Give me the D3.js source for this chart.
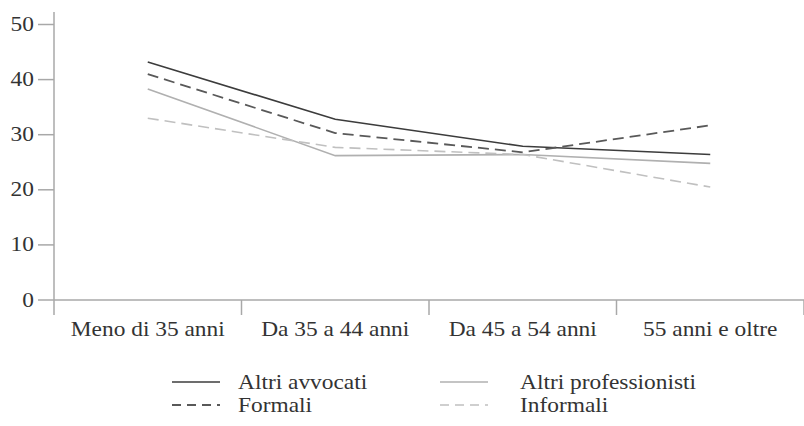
<!DOCTYPE html>
<html><head><meta charset="utf-8">
<script src="https://cdn.jsdelivr.net/npm/d3@7"></script>
</head><body style="margin:0">
<svg id="c" width="804" height="426"></svg>
<script>
const categories = ["Meno di 35 anni","Da 35 a 44 anni","Da 45 a 54 anni","55 anni e oltre"];
const altriAvvocati = [43.2, 32.8, 27.9, 26.4];
const formali = [41.0, 30.3, 26.8, 31.7];
const altriProfessionisti = [38.3, 26.2, 26.4, 24.8];
const informali = [33.0, 27.7, 26.4, 20.5];
const yTicks = [0,10,20,30,40,50];
const seriesNames = ["Altri avvocati","Formali","Altri professionisti","Informali"];

const series = [
  {name: seriesNames[0], values: altriAvvocati, color: "#3c3c3c", dash: null, w: 1.6},
  {name: seriesNames[1], values: formali, color: "#595959", dash: "11,6", w: 1.8},
  {name: seriesNames[2], values: altriProfessionisti, color: "#b0b0b0", dash: null, w: 1.6},
  {name: seriesNames[3], values: informali, color: "#c0c0c0", dash: "11,6", w: 1.6}
];

const svg = d3.select("#c");
const SX = 1.17;
function label(parent, px, py, txt, anchor){
  const g = parent.append("g").attr("transform", `translate(${px},${py}) scale(${SX},1)`);
  return g.append("text")
    .attr("x", 0).attr("y", 0)
    .attr("text-anchor", anchor || "start")
    .attr("font-size", 20)
    .style("font-family", '"Liberation Serif"')
    .style("fill", "#333")
    .text(txt);
}

const x = d3.scaleBand().domain(categories).range([54, 804]);
const y = d3.scaleLinear().domain([0,50]).range([300, 24.5]);
const axisColor = "#a8a8a8";

svg.append("line").attr("x1",54).attr("x2",54).attr("y1",12).attr("y2",315)
  .attr("stroke",axisColor).attr("stroke-width",1.5);
const yg = svg.append("g");
yg.selectAll("line").data(yTicks).join("line")
  .attr("x1",38).attr("x2",54).attr("y1",d=>y(d)).attr("y2",d=>y(d))
  .attr("stroke",axisColor).attr("stroke-width",1.5);
yTicks.forEach(t => label(yg, 34, y(t)+6.5, String(t), "end"));

svg.append("line").attr("x1",54).attr("x2",804).attr("y1",y(0)).attr("y2",y(0))
  .attr("stroke",axisColor).attr("stroke-width",1.5);
const bounds = categories.map(c=>x(c)+x.bandwidth());
svg.selectAll(".xt").data(bounds).join("line").attr("class","xt")
  .attr("x1",d=>d).attr("x2",d=>d).attr("y1",y(0)).attr("y2",315)
  .attr("stroke",axisColor).attr("stroke-width",1.5);
const xg = svg.append("g");
categories.forEach(c => label(xg, x(c)+x.bandwidth()/2, 336, c, "middle"));

const line = d3.line().x((d,i)=>x(categories[i])+x.bandwidth()/2).y(d=>y(d));
svg.selectAll(".s").data(series).join("path").attr("class","s")
  .attr("d",d=>line(d.values)).attr("fill","none")
  .attr("stroke",d=>d.color).attr("stroke-width",d=>d.w)
  .attr("stroke-dasharray",d=>d.dash);

const legPos = [[172,382],[172,405],[440,382],[440,405]];
series.forEach((s,i) => {
  const g = svg.append("g").attr("transform",`translate(${legPos[i][0]},${legPos[i][1]})`);
  g.append("line").attr("x1",0).attr("x2",48).attr("y1",0).attr("y2",0)
    .attr("stroke",s.color).attr("stroke-width",s.w).attr("stroke-dasharray",s.dash?"9,6":null);
  label(g, i<2?66:80, 6.5, s.name, "start");
});
</script>
</body></html>
